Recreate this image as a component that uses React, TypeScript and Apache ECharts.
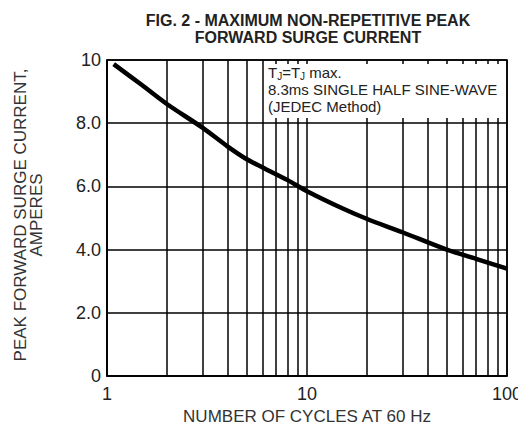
import React, { useEffect, useRef } from "react";
import * as echarts from "echarts";

const cycles = [1.08, 1.5, 2, 3, 4, 5, 6, 8, 10, 15, 20, 30, 50, 70, 100];
const current = [9.87, 9.2, 8.6, 7.86, 7.27, 6.86, 6.6, 6.2, 5.85, 5.31, 4.97, 4.55, 4.0, 3.71, 3.4];
const minorGrid = [2, 3, 4, 5, 6, 7, 8, 9, 20, 30, 40, 50, 60, 70, 80, 90];
const titleLines = ["FIG. 2 - MAXIMUM NON-REPETITIVE PEAK", "FORWARD SURGE CURRENT"];
const xName = "NUMBER OF CYCLES AT 60 Hz";
const yNameLines = ["PEAK FORWARD SURGE CURRENT,", "AMPERES"];

const FONT = "'Liberation Sans', Arial, Helvetica, sans-serif";

export default function App() {
  const ref = useRef<HTMLDivElement>(null);
  useEffect(() => {
    if (!ref.current) return;
    const chart = echarts.init(ref.current, undefined, { renderer: "svg" });
    chart.setOption({
      animation: false,
      backgroundColor: "#fff",
      title: {
        text: titleLines.join("\n"),
        left: 303,
        top: 7,
        textAlign: "center",
        textStyle: { fontFamily: FONT, fontSize: 16, fontWeight: "bold", color: "#222", lineHeight: 17 },
      },
      grid: { left: 107, right: 19, top: 60, bottom: 52, show: true, borderColor: "#000", borderWidth: 1.5, backgroundColor: "transparent" },
      xAxis: {
        type: "log",
        logBase: 10,
        min: 1,
        max: 100,
        name: xName,
        nameLocation: "middle",
        nameGap: 31,
        nameTextStyle: { fontFamily: FONT, fontSize: 17, color: "#333" },
        axisLine: { lineStyle: { color: "#000", width: 1.5 } },
        axisTick: { show: false },
        axisLabel: { fontFamily: FONT, fontSize: 18, color: "#222", margin: 9, formatter: (v: number) => String(Math.round(v)) },
        splitLine: { show: true, lineStyle: { color: "#000", width: 1.5 } },
      },
      yAxis: {
        type: "value",
        min: 0,
        max: 10,
        interval: 2,
        axisLine: { show: true, lineStyle: { color: "#000", width: 1.5 } },
        axisTick: { show: false },
        axisLabel: {
          fontFamily: FONT,
          fontSize: 18,
          color: "#222",
          margin: 6,
          formatter: (v: number) => (v === 0 || v === 10 ? String(v) : v.toFixed(1)),
        },
        splitLine: { show: true, lineStyle: { color: "#000", width: 1.5 } },
      },
      graphic: [
        {
          type: "text",
          x: 28,
          y: 215,
          rotation: Math.PI / 2,
          z: 20,
          style: {
            text: yNameLines.join("\n"),
            fontFamily: FONT,
            fontSize: 17,
            lineHeight: 16,
            fill: "#333",
            align: "center",
            verticalAlign: "middle",
          },
        },
        {
          type: "rect",
          z: 10,
          shape: { x: 265, y: 64, width: 240, height: 54 },
          style: { fill: "#fff" },
        },
        {
          type: "text",
          x: 268,
          y: 64,
          z: 11,
          style: {
            text: "{a|T}{s|J}{a|=T}{s|J}{a| max.}\n{a|8.3ms SINGLE HALF SINE-WAVE}\n{a|(JEDEC Method)}",
            fontFamily: FONT,
            fontSize: 15,
            lineHeight: 17,
            fill: "#222",
            rich: {
              a: { fontFamily: FONT, fontSize: 15, lineHeight: 17, fill: "#222" },
              s: { fontFamily: FONT, fontSize: 10, lineHeight: 17, fill: "#222", verticalAlign: "bottom" },
            },
          },
        },
      ],
      series: [
        {
          type: "line",
          data: cycles.map((c, i) => [c, current[i]]),
          smooth: 0.3,
          showSymbol: false,
          lineStyle: { color: "#000", width: 4.5 },
          z: 5,
          markLine: {
            silent: true,
            symbol: ["none", "none"],
            label: { show: false },
            lineStyle: { color: "#000", width: 1.5, type: "solid" },
            data: minorGrid.map((v) => ({ xAxis: v })),
          },
        },
      ],
    });
    return () => chart.dispose();
  }, []);
  return <div ref={ref} style={{ width: 526, height: 430, margin: -8 }} />;
}
